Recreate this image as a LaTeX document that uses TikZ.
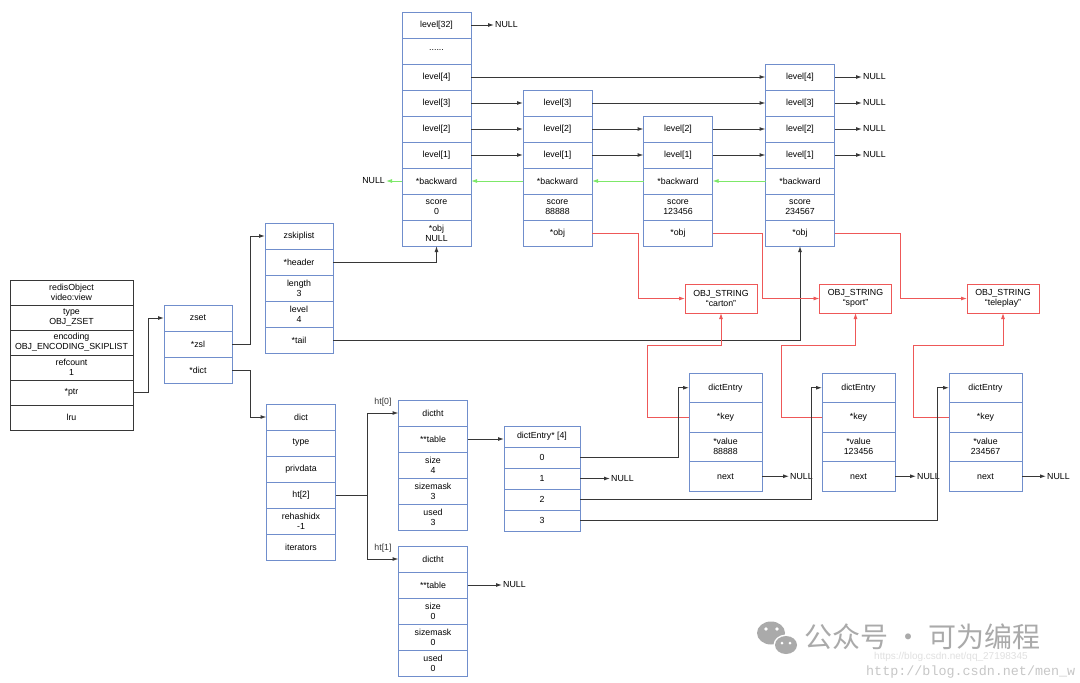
\documentclass[tikz,border=0pt]{standalone}
\usepackage{fontspec}
\setmainfont{Liberation Sans}
\newfontfamily\cjkfont{Noto Sans CJK SC}
\newfontfamily\urlfont{Liberation Mono}
\usetikzlibrary{arrows.meta,positioning}
\definecolor{bleuCase}{RGB}{112,142,204}
\definecolor{grisTrait}{RGB}{55,55,55}
\definecolor{rougeObj}{RGB}{238,88,88}
\definecolor{vertRetour}{RGB}{125,232,105}
\definecolor{grisFiligrane}{RGB}{170,170,170}

\begin{document}
\begin{tikzpicture}[x=1pt,y=-1pt,font=\fontsize{8.8}{10}\selectfont,
  node distance=0pt,
  case/.style={rectangle,draw=bleuCase,line width=0.9pt,minimum width=69pt,
               minimum height=26pt,inner sep=0pt,outer sep=0pt,align=center},
  caseObj/.style={case,draw=grisTrait,minimum width=123pt,minimum height=25pt},
  caseStr/.style={case,draw=rougeObj,minimum width=72pt,minimum height=29pt},
  caseEnt/.style={case,minimum width=73pt,minimum height=29.5pt},
  caseTab/.style={case,minimum width=76pt,minimum height=21pt},
  nul/.style={inner sep=1pt,anchor=west},
  lien/.style={-{Latex[length=6pt,width=4pt]},line width=1pt,grisTrait},
  lienObj/.style={lien,line width=0.9pt,rougeObj},
  lienRetour/.style={lien,line width=0.9pt,vertRetour}]

  \useasboundingbox[fill=white] (0,0) rectangle (1080,683);

  % redisObject
  \node[caseObj] (roTitle) at (71.5,292.5) {redisObject\\video:view};
  \node[caseObj,below=of roTitle] (roType) {type\\OBJ\_ZSET};
  \node[caseObj,below=of roType] (roEnc) {encoding\\OBJ\_ENCODING\_SKIPLIST};
  \node[caseObj,below=of roEnc] (roRef) {refcount\\1};
  \node[caseObj,below=of roRef] (roPtr) {*ptr};
  \node[caseObj,below=of roPtr] (roLru) {lru};

  % zset
  \node[case,minimum width=68pt] (zsTitle) at (198,318) {zset};
  \node[case,minimum width=68pt,below=of zsTitle] (zsZsl) {*zsl};
  \node[case,minimum width=68pt,below=of zsZsl] (zsDict) {*dict};

  % zskiplist
  \node[case,minimum width=68pt] (zslTitle) at (299,236) {zskiplist};
  \node[case,minimum width=68pt,below=of zslTitle] (zslHeader) {*header};
  \node[case,minimum width=68pt,below=of zslHeader] (zslLen) {length\\3};
  \node[case,minimum width=68pt,below=of zslLen] (zslLevel) {level\\4};
  \node[case,minimum width=68pt,below=of zslLevel] (zslTail) {*tail};

  % header node of the skiplist
  \node[case] (hL32) at (436.5,25) {level[32]};
  \node[case,below=of hL32] (hDots) {\raisebox{2pt}{......}};
  \node[case,below=of hDots] (hL4) {level[4]};
  \node[case,below=of hL4] (hL3) {level[3]};
  \node[case,below=of hL3] (hL2) {level[2]};
  \node[case,below=of hL2] (hL1) {level[1]};
  \node[case,below=of hL1] (hBack) {*backward};
  \node[case,below=of hBack] (hScore) {score\\0};
  \node[case,below=of hScore] (hObj) {*obj\\NULL};

  % skiplist node 88888
  \node[case] (n1L3) at (557.5,103) {level[3]};
  \node[case,below=of n1L3] (n1L2) {level[2]};
  \node[case,below=of n1L2] (n1L1) {level[1]};
  \node[case,below=of n1L1] (n1Back) {*backward};
  \node[case,below=of n1Back] (n1Score) {score\\88888};
  \node[case,below=of n1Score] (n1Obj) {*obj};

  % skiplist node 123456
  \node[case] (n2L2) at (678,129) {level[2]};
  \node[case,below=of n2L2] (n2L1) {level[1]};
  \node[case,below=of n2L1] (n2Back) {*backward};
  \node[case,below=of n2Back] (n2Score) {score\\123456};
  \node[case,below=of n2Score] (n2Obj) {*obj};

  % skiplist node 234567
  \node[case] (n3L4) at (800,77) {level[4]};
  \node[case,below=of n3L4] (n3L3) {level[3]};
  \node[case,below=of n3L3] (n3L2) {level[2]};
  \node[case,below=of n3L2] (n3L1) {level[1]};
  \node[case,below=of n3L1] (n3Back) {*backward};
  \node[case,below=of n3Back] (n3Score) {score\\234567};
  \node[case,below=of n3Score] (n3Obj) {*obj};

  % NULL ends of the skiplist
  \node[nul] (nulL32) at (494,25) {NULL};
  \node[nul] (nulL4) at (862,77) {NULL};
  \node[nul] (nulL3) at (862,103) {NULL};
  \node[nul] (nulL2) at (862,129) {NULL};
  \node[nul] (nulL1) at (862,155) {NULL};
  \node[nul,anchor=east] (nulBack) at (386,181) {NULL};

  % string objects
  \node[caseStr] (strCarton) at (721,298.5) {OBJ\_STRING\\``carton''};
  \node[caseStr] (strSport) at (855.5,298.5) {OBJ\_STRING\\``sport''};
  \node[caseStr] (strTele) at (1003,298.5) {OBJ\_STRING\\``teleplay''};

  % dict
  \node[case] (dictTitle) at (301,417) {dict};
  \node[case,below=of dictTitle] (dictType) {type};
  \node[case,below=of dictType] (dictPriv) {privdata};
  \node[case,below=of dictPriv] (dictHt) {ht[2]};
  \node[case,below=of dictHt] (dictRehash) {rehashidx\\-1};
  \node[case,below=of dictRehash] (dictIter) {iterators};

  % dictht ht[0]
  \node[case] (t0Title) at (433,413) {dictht};
  \node[case,below=of t0Title] (t0Table) {**table};
  \node[case,below=of t0Table] (t0Size) {size\\4};
  \node[case,below=of t0Size] (t0Mask) {sizemask\\3};
  \node[case,below=of t0Mask] (t0Used) {used\\3};

  % dictht ht[1]
  \node[case] (t1Title) at (433,559) {dictht};
  \node[case,below=of t1Title] (t1Table) {**table};
  \node[case,below=of t1Table] (t1Size) {size\\0};
  \node[case,below=of t1Size] (t1Mask) {sizemask\\0};
  \node[case,below=of t1Mask] (t1Used) {used\\0};
  \node[nul] (nulT1) at (502,585) {NULL};

  % bucket array
  \node[caseTab] (de4Title) at (542,436.5) {dictEntry* [4]};
  \node[caseTab,below=of de4Title] (de4R0) {0};
  \node[caseTab,below=of de4R0] (de4R1) {1};
  \node[caseTab,below=of de4R1] (de4R2) {2};
  \node[caseTab,below=of de4R2] (de4R3) {3};
  \node[nul] (nulR1) at (610,478.5) {NULL};

  % dict entries
  \node[caseEnt] (deATitle) at (725.5,387.75) {dictEntry};
  \node[caseEnt,below=of deATitle] (deAKey) {*key};
  \node[caseEnt,below=of deAKey] (deAVal) {*value\\88888};
  \node[caseEnt,below=of deAVal] (deANext) {next};
  \node[caseEnt] (deBTitle) at (858.5,387.75) {dictEntry};
  \node[caseEnt,below=of deBTitle] (deBKey) {*key};
  \node[caseEnt,below=of deBKey] (deBVal) {*value\\123456};
  \node[caseEnt,below=of deBVal] (deBNext) {next};
  \node[caseEnt] (deCTitle) at (985.5,387.75) {dictEntry};
  \node[caseEnt,below=of deCTitle] (deCKey) {*key};
  \node[caseEnt,below=of deCKey] (deCVal) {*value\\234567};
  \node[caseEnt,below=of deCVal] (deCNext) {next};
  \node[nul] (nulA) at (789,476.25) {NULL};
  \node[nul] (nulB) at (916,476.25) {NULL};
  \node[nul] (nulC) at (1046,476.25) {NULL};

  % pointers from the object to the skiplist
  \draw[lien] (roPtr.east) -- ++(15,0) |- (zsTitle.west);
  \draw[lien] (zsZsl.east) -- ++(18,0) |- (zslTitle.west);
  \draw[lien] (zsDict.east) -- ++(18,0) |- (dictTitle.west);
  \draw[lien] (zslHeader.east) -| (hObj.south);
  \draw[lien] (zslTail.east) -| (n3Obj.south);

  % forward levels
  \draw[lien] (hL32) -- (nulL32);
  \draw[lien] (hL4) -- (n3L4);
  \draw[lien] (hL3) -- (n1L3);
  \draw[lien] (hL2) -- (n1L2);
  \draw[lien] (hL1) -- (n1L1);
  \draw[lien] (n1L3) -- (n3L3);
  \draw[lien] (n1L2) -- (n2L2);
  \draw[lien] (n1L1) -- (n2L1);
  \draw[lien] (n2L2) -- (n3L2);
  \draw[lien] (n2L1) -- (n3L1);
  \draw[lien] (n3L4) -- (nulL4);
  \draw[lien] (n3L3) -- (nulL3);
  \draw[lien] (n3L2) -- (nulL2);
  \draw[lien] (n3L1) -- (nulL1);

  % backward pointers
  \draw[lienRetour] (hBack) -- (nulBack);
  \draw[lienRetour] (n1Back) -- (hBack);
  \draw[lienRetour] (n2Back) -- (n1Back);
  \draw[lienRetour] (n3Back) -- (n2Back);

  % members
  \draw[lienObj] (n1Obj.east) -- ++(46,0) |- (strCarton.west);
  \draw[lienObj] (n2Obj.east) -- ++(50,0) |- (strSport.west);
  \draw[lienObj] (n3Obj.east) -- ++(66,0) |- (strTele.west);
  \draw[lienObj] (deAKey.west) -- ++(-42,0) -- ++(0,-72) -| (strCarton.south);
  \draw[lienObj] (deBKey.west) -- ++(-41,0) -- ++(0,-72) -| (strSport.south);
  \draw[lienObj] (deCKey.west) -- ++(-36,0) -- ++(0,-72) -| (strTele.south);

  % hash tables
  \draw[line width=1pt,grisTrait] (dictHt.east) -- ++(32,0) coordinate (htFork);
  \draw[lien] (htFork) |- (t0Title.west) node[pos=0.75,above=3pt] {ht[0]};
  \draw[lien] (htFork) |- (t1Title.west) node[pos=0.75,above=3pt] {ht[1]};
  \draw[lien] (t0Table.east) -- (t0Table.east -| de4Title.west);
  \draw[lien] (t1Table) -- (nulT1);
  \draw[lien] (de4R0.east) -- ++(98,0) |- (deATitle.west);
  \draw[lien] (de4R1) -- (nulR1);
  \draw[lien] (de4R2.east) -- ++(231,0) |- (deBTitle.west);
  \draw[lien] (de4R3.east) -- ++(357,0) |- (deCTitle.west);
  \draw[lien] (deANext) -- (nulA);
  \draw[lien] (deBNext) -- (nulB);
  \draw[lien] (deCNext) -- (nulC);

  % watermark
  \fill[grisFiligrane] (771,633) ellipse (14 and 11.5);
  \fill[white] (786,645) ellipse (12.5 and 10.5);
  \fill[grisFiligrane] (786,645) ellipse (11 and 9);
  \fill[white] (766,629) circle (1.8) (777,629) circle (1.8)
               (782,643) circle (1.5) (790,643) circle (1.5);
  \node[anchor=west,inner sep=0pt,text=grisFiligrane,font=\cjkfont\fontsize{28}{30}\selectfont]
    (wmText) at (804,637) {公众号 · 可为编程};
  \node[anchor=west,inner sep=0pt,text=black!12,font=\fontsize{10}{11}\selectfont]
    (wmUrlA) at (874,657) {https://blog.csdn.net/qq\_27198345};
  \node[anchor=west,inner sep=0pt,text=black!22,font=\urlfont\fontsize{13.4}{15}\selectfont]
    (wmUrlB) at (866,672) {http://blog.csdn.net/men\_w};
\end{tikzpicture}
\end{document}
